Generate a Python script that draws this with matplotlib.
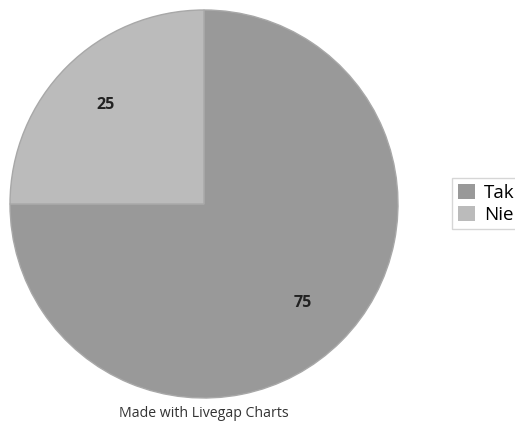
import matplotlib
matplotlib.use("Agg")
import matplotlib.pyplot as plt
import numpy as np

labels = ["Tak", "Nie"]
values = [75, 25]
colors = ["#999999", "#bbbbbb"]

W, H = 515, 423
fig = plt.figure(figsize=(W / 100, H / 100), dpi=100)
plt.rcParams['font.family'] = ['Open Sans', 'DejaVu Sans']

cx, cy, r = 204, 204, 194
ax = fig.add_axes([(cx - r) / W, (H - (cy + r)) / H, 2 * r / W, 2 * r / H])
wedges, texts = ax.pie(values, colors=colors, startangle=90, counterclock=False,
                       radius=1.0, wedgeprops=dict(edgecolor="#a8a8a8", linewidth=1.0))
for w, v in zip(wedges, values):
    ang = np.deg2rad((w.theta1 + w.theta2) / 2)
    ax.text(0.72 * np.cos(ang), 0.72 * np.sin(ang), str(v), ha="center", va="center",
            fontsize=11.5, fontweight="bold", color="#222222")
ax.set_xlim(-1, 1)
ax.set_ylim(-1, 1)
ax.set_aspect("auto")
ax.axis("off")

leg = fig.legend(wedges, labels, loc="upper left",
                 bbox_to_anchor=(452 / W, 1 - 178 / H), frameon=True, fancybox=False,
                 fontsize=13.5, handlelength=0.9, handleheight=0.9, handletextpad=0.5,
                 borderpad=0.3, labelspacing=0.2, borderaxespad=0)
leg.get_frame().set_edgecolor("#cccccc")
leg.get_frame().set_linewidth(1.0)
for h in leg.legend_handles:
    h.set_edgecolor("none")

fig.text(cx / W, 1 - 413 / H, "Made with Livegap Charts", ha="center", va="center",
         fontsize=10.2, color="#333333")

fig.savefig("out.png", dpi=100)
